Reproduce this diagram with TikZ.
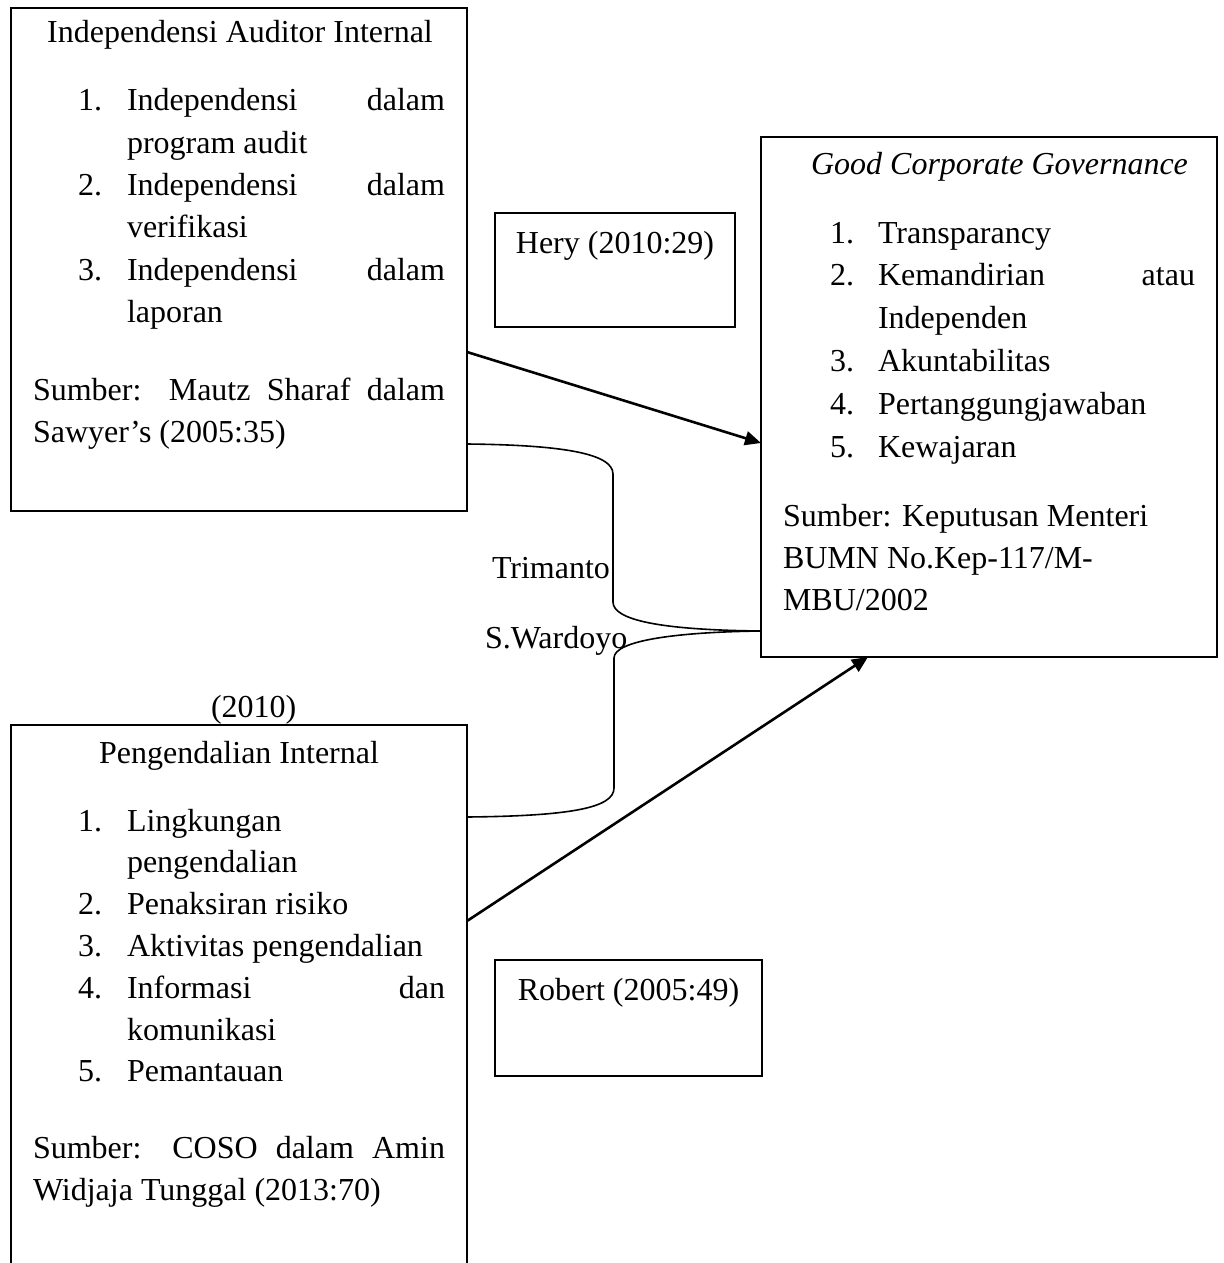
\documentclass[tikz,border=0pt]{standalone}
\usepackage{fontspec}
\setmainfont{Liberation Serif}
\usetikzlibrary{arrows.meta}
\newcommand\fsz{\fontsize{16}{21}\selectfont}
\newcommand\jline[1]{\makebox[159pt][s]{#1}}
\newcommand\sline[1]{\makebox[206pt][s]{#1}}
\begin{document}
\begin{tikzpicture}[x=0.5pt,y=-0.5pt,
  box/.style={draw, line width=1.15pt, inner sep=0pt, outer sep=0pt, fill=white},
  txt/.style={inner sep=0pt, outer sep=0pt, anchor=base west, font=\fsz},
  ctxt/.style={inner sep=0pt, outer sep=0pt, anchor=base, font=\fsz},
  arr/.style={line width=1.3pt, -{Triangle[length=8pt,width=7pt]}},
  brace/.style={line width=0.8pt}]
\useasboundingbox (0,0) rectangle (1224,1263);
\clip (0,0) rectangle (1224,1263);
\fill[white] (0,0) rectangle (1224,1263);

% boxes
\node[box, minimum width=228pt, minimum height=251.5pt] (ia) at (239,259.5) {};
\node[box, minimum width=228pt, minimum height=260pt] (gcg) at (989,397) {};
\node[box, minimum width=120pt, minimum height=57pt] (hery) at (615,270) {};
\node[box, minimum width=133.5pt, minimum height=58pt] (rob) at (628.5,1018) {};
\node[box, minimum width=228pt, minimum height=287.5pt] (pi) at (239,1012.5) {};

% connectors
\draw[arr] (ia.east |- 0,352) -- (gcg.west |- 0,443);
\draw[arr] (pi.east |- 0,921) -- (gcg.south -| 868,0);
\draw[brace] (ia.east |- 0,444) .. controls (560,445) and (613,453) .. (613,474)
  -- (613,602) .. controls (613,620) and (660,630) .. (gcg.west |- 0,631);
\draw[brace] (gcg.west |- 0,631) .. controls (680,632) and (614,640) .. (614,658)
  -- (614,788) .. controls (614,808) and (570,816) .. (pi.east |- 0,817);

% box 1 text
\node[ctxt] (ia-t) at (240,43) {Independensi Auditor Internal};
\node[txt] (ia-n1) at (78,111) {1.};
\node[txt] (ia-i1) at (127,111) {\jline{Independensi dalam}};
\node[txt] (ia-i1b) at (127,153.3) {program audit};
\node[txt] (ia-n2) at (78,195.6) {2.};
\node[txt] (ia-i2) at (127,195.6) {\jline{Independensi dalam}};
\node[txt] (ia-i2b) at (127,237.9) {verifikasi};
\node[txt] (ia-n3) at (78,280.2) {3.};
\node[txt] (ia-i3) at (127,280.2) {\jline{Independensi dalam}};
\node[txt] (ia-i3b) at (127,322.5) {laporan};
\node[txt] (ia-s1) at (33,400) {\sline{Sumber: Mautz Sharaf dalam}};
\node[txt] (ia-s2) at (33,442) {Sawyer’s (2005:35)};

% GCG text
\node[ctxt] (g-t) at (999.5,175) {\itshape Good Corporate Governance};
\node[txt] (g-n1) at (830,243) {1.};
\node[txt] (g-i1) at (878,243) {Transparancy};
\node[txt] (g-n2) at (830,285.8) {2.};
\node[txt] (g-i2) at (878,285.8) {\makebox[158.5pt][s]{Kemandirian atau}};
\node[txt] (g-i2b) at (878,328.6) {Independen};
\node[txt] (g-n3) at (830,371.4) {3.};
\node[txt] (g-i3) at (878,371.4) {Akuntabilitas};
\node[txt] (g-n4) at (830,414.2) {4.};
\node[txt] (g-i4) at (878,414.2) {Pertanggungjawaban};
\node[txt] (g-n5) at (830,457) {5.};
\node[txt] (g-i5) at (878,457) {Kewajaran};
\node[txt] (g-s1) at (783,526) {Sumber: Keputusan Menteri};
\node[txt] (g-s2) at (783,568) {BUMN No.Kep-117/M-};
\node[txt] (g-s3) at (783,610) {MBU/2002};

% small boxes text
\node[ctxt] (hery-t) at (615,253) {Hery (2010:29)};
\node[ctxt] (rob-t) at (628.5,1000) {Robert (2005:49)};

% bracket labels
\node[txt] (tri) at (492,578) {Trimanto};
\node[txt] (war) at (485,648) {S.Wardoyo};
\node[txt] (yr) at (211,717) {(2010)};

% box 2 text
\node[ctxt] (pi-t) at (239,763) {Pengendalian Internal};
\node[txt] (p-n1) at (78,831) {1.};
\node[txt] (p-i1) at (127,831) {Lingkungan};
\node[txt] (p-i1b) at (127,872.8) {pengendalian};
\node[txt] (p-n2) at (78,914.6) {2.};
\node[txt] (p-i2) at (127,914.6) {Penaksiran risiko};
\node[txt] (p-n3) at (78,956.4) {3.};
\node[txt] (p-i3) at (127,956.4) {Aktivitas pengendalian};
\node[txt] (p-n4) at (78,998.2) {4.};
\node[txt] (p-i4) at (127,998.2) {\jline{Informasi dan}};
\node[txt] (p-i4b) at (127,1040) {komunikasi};
\node[txt] (p-n5) at (78,1081.8) {5.};
\node[txt] (p-i5) at (127,1081.8) {Pemantauan};
\node[txt] (p-s1) at (33,1158) {\sline{Sumber: COSO dalam Amin}};
\node[txt] (p-s2) at (33,1200) {Widjaja Tunggal (2013:70)};
\end{tikzpicture}
\end{document}
